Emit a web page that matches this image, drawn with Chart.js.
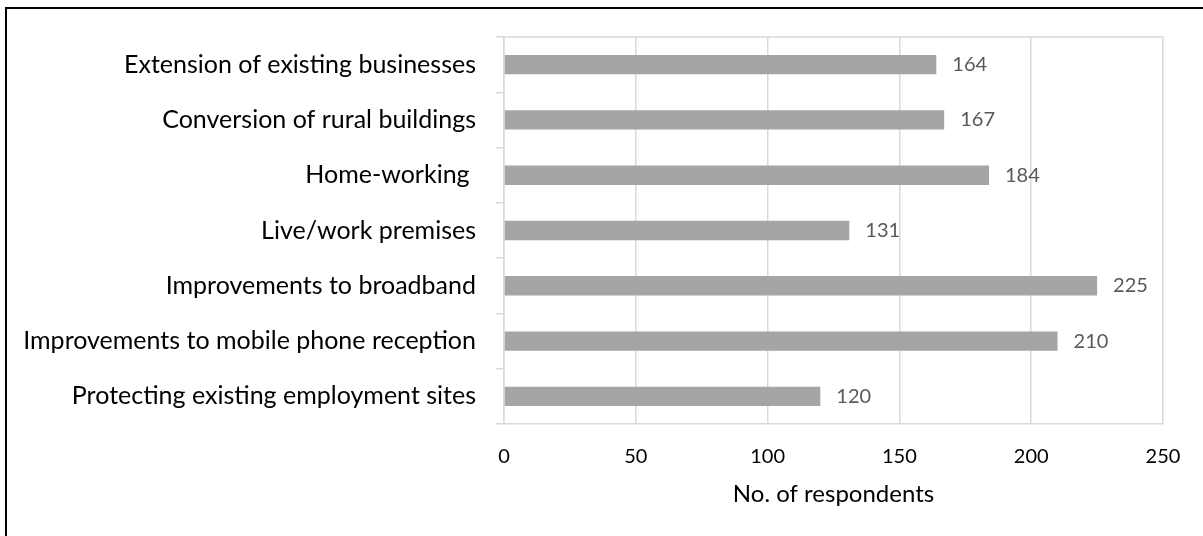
<!DOCTYPE html>
<html>
<head>
<meta charset="utf-8">
<script src="https://cdn.jsdelivr.net/npm/chart.js@4/dist/chart.umd.min.js"></script>
<style>
  html, body { margin: 0; padding: 0; background: #fff; overflow: hidden; }
  #frame {
    position: absolute; left: 5px; top: 7px; width: 1300px; height: 600px;
    border-left: 2px solid #000; border-top: 2px solid #000;
  }
  #wrap { position: absolute; left: 0; top: 0; width: 1203px; height: 536px; }
</style>
</head>
<body>
<div id="frame"></div>
<div id="wrap"><canvas id="bars"></canvas></div>
<script>
const categories = [
  'Extension of existing businesses',
  'Conversion of rural buildings',
  'Home-working ',
  'Live/work premises',
  'Improvements to broadband',
  'Improvements to mobile phone reception',
  'Protecting existing employment sites'
];
const respondents = [164, 167, 184, 131, 225, 210, 120];
const xTicks = [0, 50, 100, 150, 200, 250];

const FONT = 'Lato, "Open Sans", sans-serif';
const GRID = '#D9D9D9';

// numbers printed just past the end of each bar
const valueLabels = {
  id: 'valueLabels',
  afterDatasetsDraw(chart) {
    const ctx = chart.ctx;
    const meta = chart.getDatasetMeta(0);
    ctx.save();
    ctx.font = '20px ' + FONT;
    ctx.fillStyle = '#595959';
    ctx.textAlign = 'left';
    ctx.textBaseline = 'middle';
    meta.data.forEach((bar, i) => {
      ctx.fillText(String(respondents[i]), bar.x + 16, bar.y);
    });
    ctx.restore();
  }
};

// top edge of the plot box
const plotTop = {
  id: 'plotTop',
  beforeDatasetsDraw(chart) {
    const a = chart.chartArea;
    const ctx = chart.ctx;
    ctx.save();
    ctx.strokeStyle = GRID;
    ctx.lineWidth = 1.5;
    ctx.beginPath();
    ctx.moveTo(a.left, a.top);
    ctx.lineTo(a.right, a.top);
    ctx.stroke();
    ctx.restore();
  }
};

new Chart(document.getElementById('bars'), {
  type: 'bar',
  data: {
    labels: categories,
    datasets: [{
      data: respondents,
      backgroundColor: '#A5A5A5',
      borderWidth: 0,
      categoryPercentage: 1,
      barPercentage: 0.35
    }]
  },
  options: {
    indexAxis: 'y',
    responsive: true,
    maintainAspectRatio: false,
    animation: false,
    layout: { padding: { top: 37, right: 40, left: 0, bottom: 0 } },
    plugins: { legend: { display: false }, tooltip: { enabled: false } },
    scales: {
      x: {
        min: 0,
        max: 250,
        afterBuildTicks(scale) { scale.ticks = xTicks.map(v => ({ value: v })); },
        grid: { color: GRID, lineWidth: 1.5, drawTicks: false },
        border: { color: GRID, width: 1.5 },
        ticks: { color: '#000', font: { family: FONT, size: 20 }, padding: 21 },
        title: {
          display: true,
          text: 'No. of respondents',
          color: '#000',
          font: { family: FONT, size: 24 },
          padding: { top: 8, bottom: 27 }
        },
        afterFit(scale) { scale.height = 112; }
      },
      y: {
        grid: { color: GRID, lineWidth: 1.5, drawOnChartArea: false, tickLength: 8 },
        border: { color: GRID, width: 1.5 },
        ticks: { color: '#000', font: { family: FONT, size: 25 }, padding: 20 },
        afterFit(scale) { scale.width = 504; }
      }
    }
  },
  plugins: [valueLabels, plotTop]
});
</script>
</body>
</html>
